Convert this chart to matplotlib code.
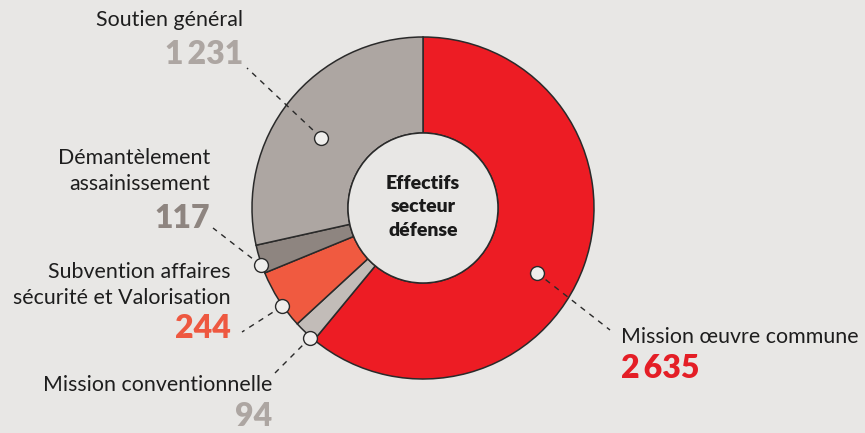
import matplotlib
matplotlib.use("Agg")
import numpy as np
from matplotlib import pyplot as plt

plt.rcParams['font.family'] = ['Lato', 'DejaVu Sans']

# données
labels = ["Mission œuvre commune", "Mission conventionnelle",
          "Subvention affaires\nsécurité et Valorisation",
          "Démantèlement\nassainissement", "Soutien général"]
values = [2635, 94, 244, 117, 1231]
value_text = ["2\u2009635", "94", "244", "117", "1\u2009231"]
colors = ["#ED1C24", "#C2BCB8", "#F05A40", "#8E8580", "#ADA6A2"]
num_colors = ["#E41E26", "#ADA6A2", "#EE5840", "#8E8580", "#ADA6A2"]

bg = "#E8E7E5"
W, H = 865, 433
cx, cy, R, r_in = 423, H - 208, 171, 75

fig = plt.figure(figsize=(W / 100, H / 100), dpi=100, facecolor=bg)
ax = fig.add_axes([0, 0, 1, 1])

wedges, _ = ax.pie(values, colors=colors, startangle=90, counterclock=False,
                   center=(cx, cy), radius=R, frame=True,
                   wedgeprops=dict(width=R - r_in, edgecolor="#2A2A2A", linewidth=1.1))
ax.set_xlim(0, W)
ax.set_ylim(0, H)
ax.set_aspect('equal')
ax.axis('off')

hole = plt.Circle((cx, cy), r_in, facecolor=bg, edgecolor="#2A2A2A", lw=1.1, zorder=3)
ax.add_patch(hole)
ax.text(cx, cy + 1, "Effectifs\nsecteur\ndéfense", ha='center', va='center',
        fontsize=14, fontweight='heavy', color="#1A1A1A", linespacing=1.45, zorder=4)

# position du point dans chaque part (fraction de l'angle, rayon) et fin du trait
dot_pos = [(0.455, 131), (0.81, 172), (0.62, 172), (0.7, 172), (0.54, 124)]
line_end = [(610, 330), (275, 373), (242, 332), (213, 228), (247, 68)]
# position des textes : (x, y label, y nombre, alignement)
text_pos = [(621, 337, 368, 'left'), (272, 385, 416, 'right'),
            (231, 285, 328, 'right'), (210, 171, 218, 'right'),
            (243, 20, 55, 'right')]

for w, lab, vt, nc, (f, rr), (lx, ly), (tx, ty, ny, al) in zip(
        wedges, labels, value_text, num_colors, dot_pos, line_end, text_pos):
    a = np.radians(w.theta1 + f * (w.theta2 - w.theta1))
    px, py = cx + rr * np.cos(a), cy + rr * np.sin(a)
    ax.plot([px, lx], [py, H - ly], ls=(0, (4, 4)), color="#2A2A2A", lw=1, zorder=5)
    ax.plot(px, py, 'o', ms=10, mfc="#EFEEEC", mec="#2A2A2A", mew=1, zorder=6)
    ax.text(tx, H - ty, lab, ha=al, va='center', fontsize=15.4, color="#1E1E1E",
            linespacing=1.38, multialignment=al)
    ax.text(tx, H - ny, vt, ha=al, va='center', fontsize=23, fontweight='heavy', color=nc)

fig.savefig("out.png", dpi=100, facecolor=bg)
